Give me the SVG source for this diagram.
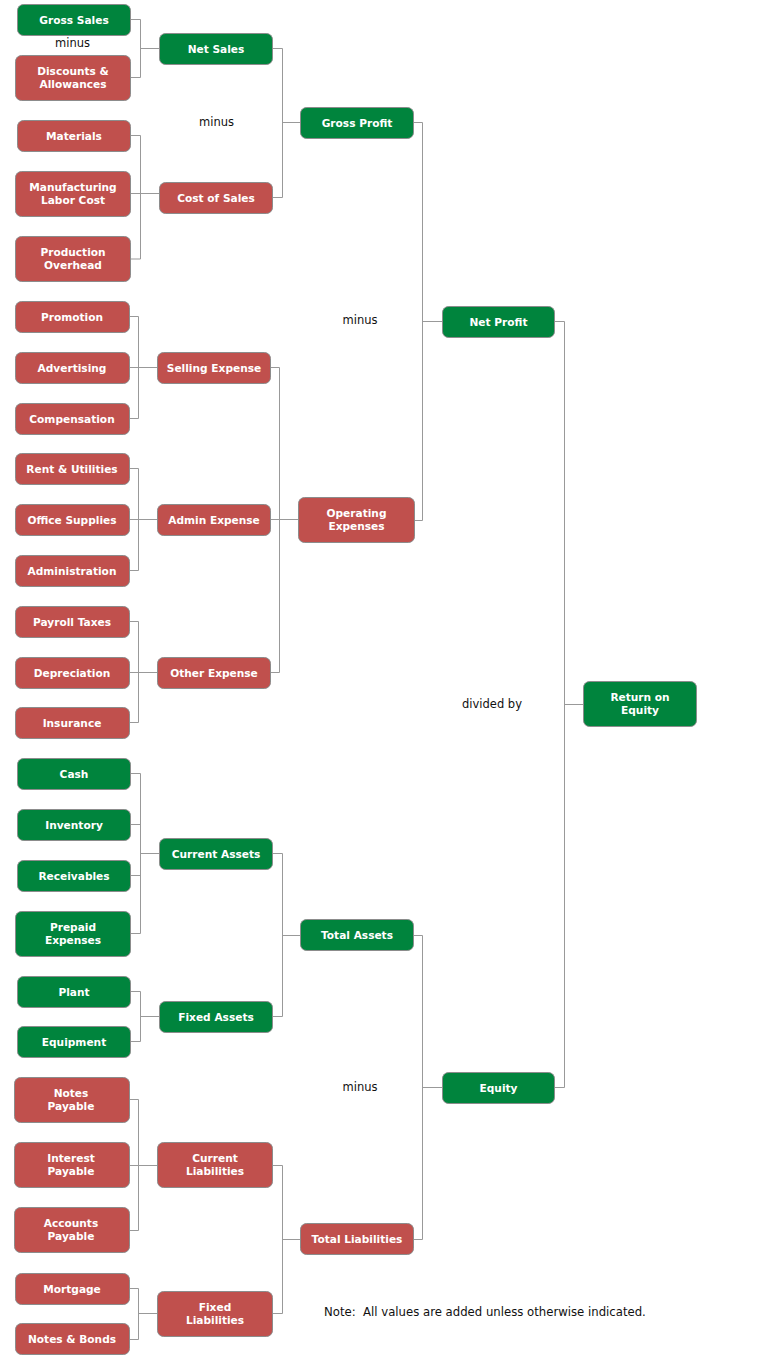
<svg xmlns="http://www.w3.org/2000/svg" width="776" height="1358" viewBox="0 0 776 1358">
<style>
.g{fill:#00843d;stroke:#8c8c8c;stroke-width:1}
.r{fill:#c0504d;stroke:#8c8c8c;stroke-width:1}
.t{font-family:"DejaVu Sans",Verdana,sans-serif;font-weight:bold;font-size:10.6px;fill:#fff;text-anchor:middle}
.l{font-family:"DejaVu Sans",Verdana,sans-serif;font-size:11.5px;fill:#111;text-anchor:middle}
.n{font-family:"DejaVu Sans",Verdana,sans-serif;font-size:11.7px;fill:#111;white-space:pre}
#connectors path{fill:none;stroke:#999;stroke-width:1}
</style>
<rect width="776" height="1358" fill="#fff"/>
<g id="connectors">
<path d="M130 19.5H140.5V77.5H130M140.5 48.5H159"/>
<path d="M130 135.5H140.5V259H130M130 193.5H159"/>
<path d="M272 48.5H282.5V197.5H272M282.5 122.5H300"/>
<path d="M129 316.5H138.5V418.5H129M129 367.5H157"/>
<path d="M129 468.5H138.5V570.5H129M129 519.5H157"/>
<path d="M129 621.5H138.5V722.5H129M129 672.5H157"/>
<path d="M270 367.5H279.5V672.5H270M270 519.5H298"/>
<path d="M413 122.5H422.5V520.5H414M422.5 321.5H442"/>
<path d="M130 773.5H140.5V933.5H130M130 824.5H140.5M130 875.5H140.5M140.5 853.5H159"/>
<path d="M130 991.5H140.5V1041.5H130M140.5 1016.5H159"/>
<path d="M272 853.5H282.5V1016.5H272M282.5 935.5H300"/>
<path d="M129 1099.5H138.5V1230.5H129M129 1165.5H157"/>
<path d="M129 1288.5H138.5V1339.5H129M138.5 1313.5H157"/>
<path d="M272 1165.5H282.5V1313.5H272M282.5 1239.5H300"/>
<path d="M413 935.5H422.5V1239.5H413M422.5 1087.5H442"/>
<path d="M554 321.5H564.5V1087.5H554M564.5 704.5H583"/>
</g>
<g id="labels">
<text class="l" x="72.5" y="47">minus</text>
<text class="l" x="216.5" y="126">minus</text>
<text class="l" x="360" y="323.5">minus</text>
<text class="l" x="492" y="708">divided by</text>
<text class="l" x="360" y="1091">minus</text>
<text class="n" x="324" y="1316" xml:space="preserve">Note:  All values are added unless otherwise indicated.</text>
</g>
<g id="gross-sales"><rect class="g" x="17.5" y="4.5" width="113" height="31" rx="6"/><text class="t" x="74" y="23.5">Gross Sales</text></g>
<g id="discounts"><rect class="r" x="15.5" y="55.5" width="115" height="45" rx="6"/><text class="t" x="73" y="75">Discounts &amp;</text><text class="t" x="73" y="88">Allowances</text></g>
<g id="materials"><rect class="r" x="17.5" y="120.5" width="113" height="31" rx="6"/><text class="t" x="74" y="139.5">Materials</text></g>
<g id="manufacturing"><rect class="r" x="15.5" y="171.5" width="115" height="45" rx="6"/><text class="t" x="73" y="191">Manufacturing</text><text class="t" x="73" y="204">Labor Cost</text></g>
<g id="production-overhead"><rect class="r" x="15.5" y="236.5" width="115" height="45" rx="6"/><text class="t" x="73" y="256">Production</text><text class="t" x="73" y="269">Overhead</text></g>
<g id="promotion"><rect class="r" x="15.5" y="301.5" width="114" height="31" rx="6"/><text class="t" x="72" y="320.5">Promotion</text></g>
<g id="advertising"><rect class="r" x="15.5" y="352.5" width="114" height="31" rx="6"/><text class="t" x="72" y="371.5">Advertising</text></g>
<g id="compensation"><rect class="r" x="15.5" y="403.5" width="114" height="31" rx="6"/><text class="t" x="72" y="422.5">Compensation</text></g>
<g id="rent"><rect class="r" x="15.5" y="453.5" width="114" height="31" rx="6"/><text class="t" x="72" y="472.5">Rent &amp; Utilities</text></g>
<g id="office-supplies"><rect class="r" x="15.5" y="504.5" width="114" height="31" rx="6"/><text class="t" x="72" y="523.5">Office Supplies</text></g>
<g id="administration"><rect class="r" x="15.5" y="555.5" width="114" height="31" rx="6"/><text class="t" x="72" y="574.5">Administration</text></g>
<g id="payroll-taxes"><rect class="r" x="15.5" y="606.5" width="114" height="31" rx="6"/><text class="t" x="72" y="625.5">Payroll Taxes</text></g>
<g id="depreciation"><rect class="r" x="15.5" y="657.5" width="114" height="31" rx="6"/><text class="t" x="72" y="676.5">Depreciation</text></g>
<g id="insurance"><rect class="r" x="15.5" y="707.5" width="114" height="31" rx="6"/><text class="t" x="72" y="726.5">Insurance</text></g>
<g id="cash"><rect class="g" x="17.5" y="758.5" width="113" height="31" rx="6"/><text class="t" x="74" y="777.5">Cash</text></g>
<g id="inventory"><rect class="g" x="17.5" y="809.5" width="113" height="31" rx="6"/><text class="t" x="74" y="828.5">Inventory</text></g>
<g id="receivables"><rect class="g" x="17.5" y="860.5" width="113" height="31" rx="6"/><text class="t" x="74" y="879.5">Receivables</text></g>
<g id="prepaid"><rect class="g" x="15.5" y="911.5" width="115" height="45" rx="6"/><text class="t" x="73" y="931">Prepaid</text><text class="t" x="73" y="944">Expenses</text></g>
<g id="plant"><rect class="g" x="17.5" y="976.5" width="113" height="31" rx="6"/><text class="t" x="74" y="995.5">Plant</text></g>
<g id="equipment"><rect class="g" x="17.5" y="1026.5" width="113" height="31" rx="6"/><text class="t" x="74" y="1045.5">Equipment</text></g>
<g id="notes-payable"><rect class="r" x="14.5" y="1077.5" width="115" height="45" rx="6"/><text class="t" x="71" y="1097">Notes</text><text class="t" x="71" y="1110">Payable</text></g>
<g id="interest-payable"><rect class="r" x="14.5" y="1142.5" width="115" height="45" rx="6"/><text class="t" x="71" y="1162">Interest</text><text class="t" x="71" y="1175">Payable</text></g>
<g id="accounts-payable"><rect class="r" x="14.5" y="1207.5" width="115" height="45" rx="6"/><text class="t" x="71" y="1227">Accounts</text><text class="t" x="71" y="1240">Payable</text></g>
<g id="mortgage"><rect class="r" x="15.5" y="1273.5" width="114" height="31" rx="6"/><text class="t" x="72" y="1292.5">Mortgage</text></g>
<g id="notes-bonds"><rect class="r" x="15.5" y="1323.5" width="114" height="31" rx="6"/><text class="t" x="72" y="1342.5">Notes &amp; Bonds</text></g>
<g id="net-sales"><rect class="g" x="159.5" y="33.5" width="113" height="31" rx="6"/><text class="t" x="216" y="52.5">Net Sales</text></g>
<g id="cost-of-sales"><rect class="r" x="159.5" y="182.5" width="113" height="31" rx="6"/><text class="t" x="216" y="201.5">Cost of Sales</text></g>
<g id="selling-expense"><rect class="r" x="157.5" y="352.5" width="113" height="31" rx="6"/><text class="t" x="214" y="371.5">Selling Expense</text></g>
<g id="admin-expense"><rect class="r" x="157.5" y="504.5" width="113" height="31" rx="6"/><text class="t" x="214" y="523.5">Admin Expense</text></g>
<g id="other-expense"><rect class="r" x="157.5" y="657.5" width="113" height="31" rx="6"/><text class="t" x="214" y="676.5">Other Expense</text></g>
<g id="current-assets"><rect class="g" x="159.5" y="838.5" width="113" height="31" rx="6"/><text class="t" x="216" y="857.5">Current Assets</text></g>
<g id="fixed-assets"><rect class="g" x="159.5" y="1001.5" width="113" height="31" rx="6"/><text class="t" x="216" y="1020.5">Fixed Assets</text></g>
<g id="current-liabilities"><rect class="r" x="157.5" y="1142.5" width="115" height="45" rx="6"/><text class="t" x="215" y="1162">Current</text><text class="t" x="215" y="1175">Liabilities</text></g>
<g id="fixed-liabilities"><rect class="r" x="157.5" y="1291.5" width="115" height="45" rx="6"/><text class="t" x="215" y="1311">Fixed</text><text class="t" x="215" y="1324">Liabilities</text></g>
<g id="gross-profit"><rect class="g" x="300.5" y="107.5" width="113" height="31" rx="6"/><text class="t" x="357" y="126.5">Gross Profit</text></g>
<g id="operating-expenses"><rect class="r" x="298.5" y="497.5" width="116" height="45" rx="6"/><text class="t" x="356.5" y="517">Operating</text><text class="t" x="356.5" y="530">Expenses</text></g>
<g id="total-assets"><rect class="g" x="300.5" y="919.5" width="113" height="31" rx="6"/><text class="t" x="357" y="938.5">Total Assets</text></g>
<g id="total-liabilities"><rect class="r" x="300.5" y="1223.5" width="113" height="31" rx="6"/><text class="t" x="357" y="1242.5">Total Liabilities</text></g>
<g id="net-profit"><rect class="g" x="442.5" y="306.5" width="112" height="31" rx="6"/><text class="t" x="498.5" y="325.5">Net Profit</text></g>
<g id="equity"><rect class="g" x="442.5" y="1072.5" width="112" height="31" rx="6"/><text class="t" x="498.5" y="1091.5">Equity</text></g>
<g id="return-on-equity"><rect class="g" x="583.5" y="681.5" width="113" height="45" rx="6"/><text class="t" x="640" y="701">Return on</text><text class="t" x="640" y="714">Equity</text></g>
</svg>
